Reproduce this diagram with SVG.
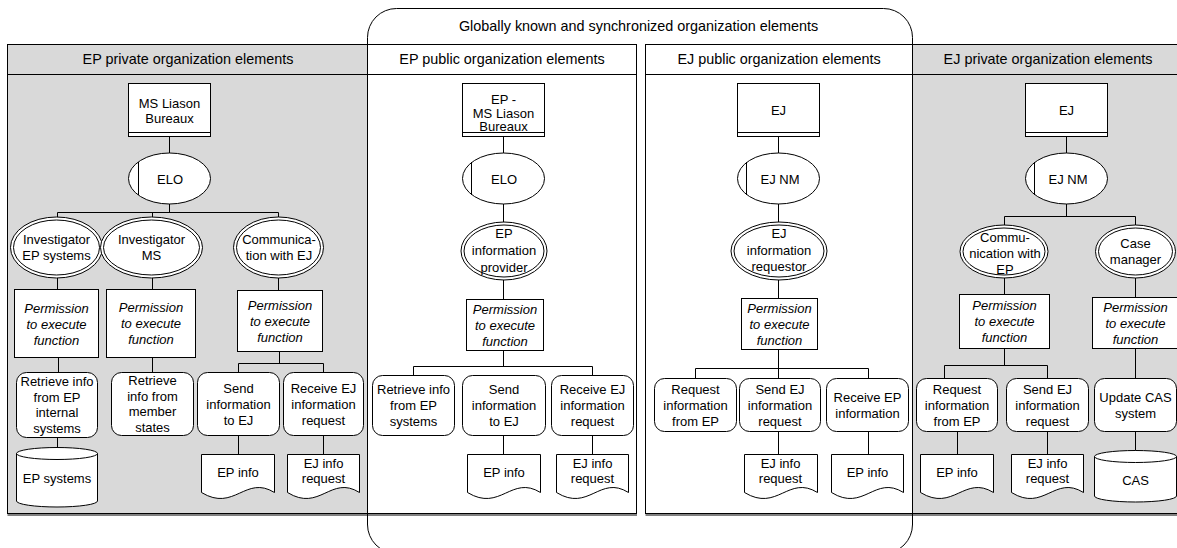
<svg xmlns="http://www.w3.org/2000/svg" width="1177" height="548" viewBox="0 0 1177 548">
  <style>
    text { font-family: "Liberation Sans", Arial, sans-serif; font-size: 13px; fill: #000; text-anchor: middle; }
    .hdr { font-size: 14.4px; }
    .it { font-style: italic; }
    .panel { stroke: #000; stroke-width: 1; }
    .priv { fill: #d9d9d9; }
    .pub { fill: #fff; }
    .shadow { stroke: #808080; stroke-width: 2; fill: none; }
    .n { fill: #fff; stroke: #000; stroke-width: 1; }
    .ln { fill: none; stroke: #000; stroke-width: 1; }
    .wire { fill: none; stroke: #000; stroke-width: 1; }
  </style>

  <!-- shared area outline -->
  <g id="shared-area">
    <rect x="367.5" y="8.5" width="545" height="545" rx="29" ry="29" fill="none" stroke="#000" stroke-width="1"/>
    <text class="hdr" x="638.5" y="31">Globally known and synchronized organization elements</text>
  </g>

  <!-- panels -->
  <g id="panel-ep-private">
    <rect class="panel priv" x="7.5" y="44.5" width="360" height="469"/>
    <line class="ln" x1="7.5" y1="74.5" x2="367.5" y2="74.5"/>
    <line class="shadow" x1="7.5" y1="515" x2="368" y2="515"/>
    <text class="hdr" x="188" y="64">EP private organization elements</text>
  </g>
  <g id="panel-ep-public">
    <rect class="panel pub" x="367.5" y="44.5" width="269" height="469"/>
    <line class="ln" x1="367.5" y1="74.5" x2="636.5" y2="74.5"/>
    <line class="shadow" x1="367.5" y1="515" x2="637" y2="515"/>
    <text class="hdr" x="502" y="64">EP public organization elements</text>
  </g>
  <g id="panel-ej-public">
    <rect class="panel pub" x="645.5" y="44.5" width="267" height="469"/>
    <line class="ln" x1="645.5" y1="74.5" x2="912.5" y2="74.5"/>
    <line class="shadow" x1="645.5" y1="515" x2="913" y2="515"/>
    <text class="hdr" x="779" y="64">EJ public organization elements</text>
  </g>
  <g id="panel-ej-private">
    <rect class="panel priv" x="912.5" y="44.5" width="272" height="469"/>
    <line class="ln" x1="912.5" y1="74.5" x2="1184.5" y2="74.5"/>
    <line class="shadow" x1="912.5" y1="515" x2="1184" y2="515"/>
    <text class="hdr" x="1048" y="64">EJ private organization elements</text>
  </g>
  <!-- shared outline over the panel edges -->
  <line x1="367.5" y1="40" x2="367.5" y2="525" stroke="#000" stroke-width="1"/>
  <line x1="912.5" y1="40" x2="912.5" y2="525" stroke="#000" stroke-width="1"/>

  <!-- connectors -->
  <g id="connectors" class="wire">
    <!-- EP private -->
    <path d="M169.5 137 V153 M169.5 204 V212.5 M57.5 212.5 H278.5 M57.5 212.5 V217 M152.5 212.5 V217 M278.5 212.5 V217"/>
    <path d="M57.5 278 V289 M152.5 278 V289 M278.5 278 V290"/>
    <path d="M58.5 358 V372 M152.5 358 V372 M279.5 352 V363.5 M238.5 363.5 H323.5 M238.5 363.5 V372 M323.5 363.5 V372"/>
    <path d="M57.5 438 V447 M238.5 436 V454 M323.5 436 V454"/>
    <!-- EP public -->
    <path d="M503.5 137 V153 M503.5 204 V222 M503.5 280 V299 M503.5 351 V366.5 M413.5 366.5 H592.5 M413.5 366.5 V375 M592.5 366.5 V375"/>
    <path d="M503.5 436 V454 M592.5 436 V454"/>
    <!-- EJ public -->
    <path d="M778.5 137 V153 M778.5 204 V222 M778.5 280 V298 M778.5 350 V368.5 M695.5 368.5 H868.5 M695.5 368.5 V378 M778.5 368.5 V378 M868.5 368.5 V378"/>
    <path d="M778.5 432 V454 M868.5 432 V454"/>
    <!-- EJ private -->
    <path d="M1066.5 137 V153 M1066.5 204 V216.5 M1004.5 216.5 H1135.5 M1004.5 216.5 V225 M1135.5 216.5 V225"/>
    <path d="M1004.5 278 V294 M1135.5 278 V297"/>
    <path d="M1004.5 349 V365.5 M944.5 365.5 H1047.5 M944.5 365.5 V378 M1047.5 365.5 V378 M1135.5 349 V378"/>
    <path d="M957.5 432 V454 M1047.5 432 V454 M1135.5 432 V451"/>
  </g>

  <!-- ===== EP private ===== -->
  <g id="ep-ms-liason-bureaux">
    <rect class="n" x="128.5" y="83.5" width="82" height="53"/>
    <line class="ln" x1="128.5" y1="132.5" x2="210.5" y2="132.5"/>
    <text x="169.5" y="108">MS Liason</text>
    <text x="169.5" y="123">Bureaux</text>
  </g>
  <g id="ep-elo">
    <ellipse class="n" cx="169.5" cy="178.5" rx="41" ry="25.5"/>
    <line class="ln" x1="138.5" y1="162" x2="138.5" y2="195"/>
    <text x="170" y="184">ELO</text>
  </g>
  <g id="ep-investigator-systems">
    <ellipse class="n" cx="56.5" cy="247.5" rx="46" ry="30.5"/>
    <ellipse class="n" cx="56.5" cy="247.5" rx="43" ry="27.5"/>
    <text x="56.5" y="243.5">Investigator</text>
    <text x="56.5" y="260">EP systems</text>
  </g>
  <g id="ep-investigator-ms">
    <ellipse class="n" cx="151.5" cy="247.5" rx="51" ry="30.5"/>
    <ellipse class="n" cx="151.5" cy="247.5" rx="48" ry="27.5"/>
    <text x="151.5" y="243.5">Investigator</text>
    <text x="151.5" y="260">MS</text>
  </g>
  <g id="ep-communication">
    <ellipse class="n" cx="278.5" cy="247.5" rx="45" ry="30.5"/>
    <ellipse class="n" cx="278.5" cy="247.5" rx="42" ry="27.5"/>
    <text x="279" y="243.5">Communica-</text>
    <text x="279" y="260">tion with EJ</text>
  </g>
  <g id="ep-perm-1">
    <rect class="n" x="14.5" y="289.5" width="84" height="68"/>
    <text class="it" x="56.5" y="313">Permission</text>
    <text class="it" x="56.5" y="329">to execute</text>
    <text class="it" x="56.5" y="345">function</text>
  </g>
  <g id="ep-perm-2">
    <rect class="n" x="106.5" y="289.5" width="89" height="68"/>
    <text class="it" x="151" y="312">Permission</text>
    <text class="it" x="151" y="328">to execute</text>
    <text class="it" x="151" y="344">function</text>
  </g>
  <g id="ep-perm-3">
    <rect class="n" x="237.5" y="290.5" width="85" height="61"/>
    <text class="it" x="280" y="309.5">Permission</text>
    <text class="it" x="280" y="325.5">to execute</text>
    <text class="it" x="280" y="341.5">function</text>
  </g>
  <g id="ep-retrieve-internal">
    <rect class="n" x="16.5" y="372.5" width="81" height="65" rx="10"/>
    <text x="57" y="386">Retrieve info</text>
    <text x="57" y="402">from EP</text>
    <text x="57" y="417">internal</text>
    <text x="57" y="433">systems</text>
  </g>
  <g id="ep-retrieve-member">
    <rect class="n" x="111.5" y="372.5" width="82" height="63" rx="10"/>
    <text x="152.5" y="385">Retrieve</text>
    <text x="152.5" y="401">info from</text>
    <text x="152.5" y="416">member</text>
    <text x="152.5" y="432">states</text>
  </g>
  <g id="ep-send-info">
    <rect class="n" x="197.5" y="372.5" width="82" height="63" rx="10"/>
    <text x="238.5" y="393">Send</text>
    <text x="238.5" y="409">information</text>
    <text x="238.5" y="425">to EJ</text>
  </g>
  <g id="ep-receive-request">
    <rect class="n" x="283.5" y="372.5" width="80" height="63" rx="10"/>
    <text x="323.5" y="393">Receive EJ</text>
    <text x="323.5" y="409">information</text>
    <text x="323.5" y="425">request</text>
  </g>
  <g id="ep-systems-store">
    <path class="n" d="M16.5 453.5 A40.5 6 0 0 1 97.5 453.5 V501 A40.5 6 0 0 1 16.5 501 Z"/>
    <path class="ln" d="M16.5 453.5 A40.5 6 0 0 0 97.5 453.5"/>
    <text x="57" y="483">EP systems</text>
  </g>
  <g id="ep-info-doc-1">
    <path class="n" d="M201.5 454.5 H274.5 V492.5 C245.3 474.5 234.4 512.5 201.5 492.5 Z"/>
    <text x="238" y="476.5">EP info</text>
  </g>
  <g id="ej-request-doc-1">
    <path class="n" d="M287.5 454.5 H359.5 V492.5 C330.7 474.5 319.9 512.5 287.5 492.5 Z"/>
    <text x="323.5" y="468">EJ info</text>
    <text x="323.5" y="483">request</text>
  </g>

  <!-- ===== EP public ===== -->
  <g id="pub-ep-bureaux">
    <rect class="n" x="462.5" y="83.5" width="82" height="53"/>
    <line class="ln" x1="462.5" y1="132.5" x2="544.5" y2="132.5"/>
    <text x="503.5" y="104">EP -</text>
    <text x="503.5" y="117.5">MS Liason</text>
    <text x="503.5" y="130.5">Bureaux</text>
  </g>
  <g id="pub-ep-elo">
    <ellipse class="n" cx="503.5" cy="178.5" rx="41" ry="25.5"/>
    <line class="ln" x1="471.5" y1="162" x2="471.5" y2="195"/>
    <text x="504" y="184">ELO</text>
  </g>
  <g id="pub-ep-provider">
    <ellipse class="n" cx="504" cy="251" rx="43" ry="29"/>
    <ellipse class="n" cx="504" cy="251" rx="40" ry="26"/>
    <text x="504" y="238">EP</text>
    <text x="504" y="255">information</text>
    <text x="504" y="272">provider</text>
  </g>
  <g id="pub-ep-perm">
    <rect class="n" x="466.5" y="299.5" width="77" height="51"/>
    <text class="it" x="505" y="314">Permission</text>
    <text class="it" x="505" y="330">to execute</text>
    <text class="it" x="505" y="346">function</text>
  </g>
  <g id="pub-ep-retrieve">
    <rect class="n" x="372.5" y="375.5" width="82" height="60" rx="10"/>
    <text x="413.5" y="394">Retrieve info</text>
    <text x="413.5" y="410">from EP</text>
    <text x="413.5" y="426">systems</text>
  </g>
  <g id="pub-ep-send">
    <rect class="n" x="462.5" y="375.5" width="83" height="60" rx="10"/>
    <text x="504" y="394">Send</text>
    <text x="504" y="410">information</text>
    <text x="504" y="426">to EJ</text>
  </g>
  <g id="pub-ep-receive">
    <rect class="n" x="551.5" y="375.5" width="82" height="60" rx="10"/>
    <text x="592.5" y="394">Receive EJ</text>
    <text x="592.5" y="410">information</text>
    <text x="592.5" y="426">request</text>
  </g>
  <g id="pub-ep-info-doc">
    <path class="n" d="M467.5 454.5 H540.5 V492.5 C511.3 474.5 500.4 512.5 467.5 492.5 Z"/>
    <text x="504" y="476.5">EP info</text>
  </g>
  <g id="pub-ej-request-doc">
    <path class="n" d="M556.5 454.5 H628.5 V492.5 C599.7 474.5 588.9 512.5 556.5 492.5 Z"/>
    <text x="592.5" y="468">EJ info</text>
    <text x="592.5" y="483">request</text>
  </g>

  <!-- ===== EJ public ===== -->
  <g id="pub-ej">
    <rect class="n" x="737.5" y="83.5" width="82" height="53"/>
    <line class="ln" x1="737.5" y1="132.5" x2="819.5" y2="132.5"/>
    <text x="778.5" y="115">EJ</text>
  </g>
  <g id="pub-ej-nm">
    <ellipse class="n" cx="778.5" cy="178.5" rx="41" ry="25.5"/>
    <line class="ln" x1="746.5" y1="162" x2="746.5" y2="195"/>
    <text x="780" y="184">EJ NM</text>
  </g>
  <g id="pub-ej-requestor">
    <ellipse class="n" cx="779" cy="251" rx="48" ry="29"/>
    <ellipse class="n" cx="779" cy="251" rx="45" ry="26"/>
    <text x="779" y="238">EJ</text>
    <text x="779" y="255">information</text>
    <text x="779" y="271">requestor</text>
  </g>
  <g id="pub-ej-perm">
    <rect class="n" x="741.5" y="298.5" width="76" height="51"/>
    <text class="it" x="779.5" y="312.5">Permission</text>
    <text class="it" x="779.5" y="328.5">to execute</text>
    <text class="it" x="779.5" y="344.5">function</text>
  </g>
  <g id="pub-ej-request">
    <rect class="n" x="654.5" y="378.5" width="82" height="53" rx="10"/>
    <text x="695.5" y="393.5">Request</text>
    <text x="695.5" y="409.5">information</text>
    <text x="695.5" y="425.5">from EP</text>
  </g>
  <g id="pub-ej-send">
    <rect class="n" x="739.5" y="378.5" width="81" height="53" rx="10"/>
    <text x="780" y="393.5">Send EJ</text>
    <text x="780" y="409.5">information</text>
    <text x="780" y="425.5">request</text>
  </g>
  <g id="pub-ej-receive">
    <rect class="n" x="826.5" y="378.5" width="82" height="53" rx="10"/>
    <text x="867.5" y="401.5">Receive EP</text>
    <text x="867.5" y="417.5">information</text>
  </g>
  <g id="pub-ej-request-doc2">
    <path class="n" d="M744.5 454.5 H817.5 V492.5 C788.3 474.5 777.4 512.5 744.5 492.5 Z"/>
    <text x="780.5" y="468">EJ info</text>
    <text x="780.5" y="483">request</text>
  </g>
  <g id="pub-ej-info-doc">
    <path class="n" d="M831.5 454.5 H903.5 V492.5 C874.7 474.5 863.9 512.5 831.5 492.5 Z"/>
    <text x="867.5" y="476.5">EP info</text>
  </g>

  <!-- ===== EJ private ===== -->
  <g id="ej">
    <rect class="n" x="1025.5" y="83.5" width="82" height="53"/>
    <line class="ln" x1="1025.5" y1="132.5" x2="1107.5" y2="132.5"/>
    <text x="1066.5" y="115">EJ</text>
  </g>
  <g id="ej-nm">
    <ellipse class="n" cx="1066.5" cy="178.5" rx="41" ry="25.5"/>
    <line class="ln" x1="1034.5" y1="162" x2="1034.5" y2="195"/>
    <text x="1068" y="184">EJ NM</text>
  </g>
  <g id="ej-communication">
    <ellipse class="n" cx="1004" cy="251.5" rx="44" ry="26.5"/>
    <ellipse class="n" cx="1004" cy="251.5" rx="41" ry="23.5"/>
    <text x="1005" y="242">Commu-</text>
    <text x="1005" y="258">nication with</text>
    <text x="1005" y="274">EP</text>
  </g>
  <g id="ej-case-manager">
    <ellipse class="n" cx="1135.5" cy="251.5" rx="40" ry="26.5"/>
    <ellipse class="n" cx="1135.5" cy="251.5" rx="37" ry="23.5"/>
    <text x="1135.5" y="248">Case</text>
    <text x="1135.5" y="264">manager</text>
  </g>
  <g id="ej-perm-1">
    <rect class="n" x="959.5" y="294.5" width="90" height="54"/>
    <text class="it" x="1004.5" y="310">Permission</text>
    <text class="it" x="1004.5" y="326">to execute</text>
    <text class="it" x="1004.5" y="342">function</text>
  </g>
  <g id="ej-perm-2">
    <rect class="n" x="1092.5" y="297.5" width="86" height="51"/>
    <text class="it" x="1135.5" y="311.5">Permission</text>
    <text class="it" x="1135.5" y="327.5">to execute</text>
    <text class="it" x="1135.5" y="343.5">function</text>
  </g>
  <g id="ej-request">
    <rect class="n" x="916.5" y="378.5" width="81" height="53" rx="10"/>
    <text x="957" y="393.5">Request</text>
    <text x="957" y="409.5">information</text>
    <text x="957" y="425.5">from EP</text>
  </g>
  <g id="ej-send">
    <rect class="n" x="1006.5" y="378.5" width="82" height="53" rx="10"/>
    <text x="1047.5" y="393.5">Send EJ</text>
    <text x="1047.5" y="409.5">information</text>
    <text x="1047.5" y="425.5">request</text>
  </g>
  <g id="ej-update-cas">
    <rect class="n" x="1094.5" y="378.5" width="82" height="53" rx="10"/>
    <text x="1135.5" y="401.5">Update CAS</text>
    <text x="1135.5" y="417.5">system</text>
  </g>
  <g id="ej-info-doc">
    <path class="n" d="M920.5 454.5 H993.5 V492.5 C964.3 474.5 953.4 512.5 920.5 492.5 Z"/>
    <text x="957" y="476.5">EP info</text>
  </g>
  <g id="ej-request-doc3">
    <path class="n" d="M1011.5 454.5 H1083.5 V492.5 C1054.7 474.5 1043.9 512.5 1011.5 492.5 Z"/>
    <text x="1047.5" y="468">EJ info</text>
    <text x="1047.5" y="483">request</text>
  </g>
  <g id="cas-store">
    <path class="n" d="M1094.5 456.5 A41 6 0 0 1 1176.5 456.5 V496 A41 6 0 0 1 1094.5 496 Z"/>
    <path class="ln" d="M1094.5 456.5 A41 6 0 0 0 1176.5 456.5"/>
    <text x="1135.5" y="485">CAS</text>
  </g>
</svg>
